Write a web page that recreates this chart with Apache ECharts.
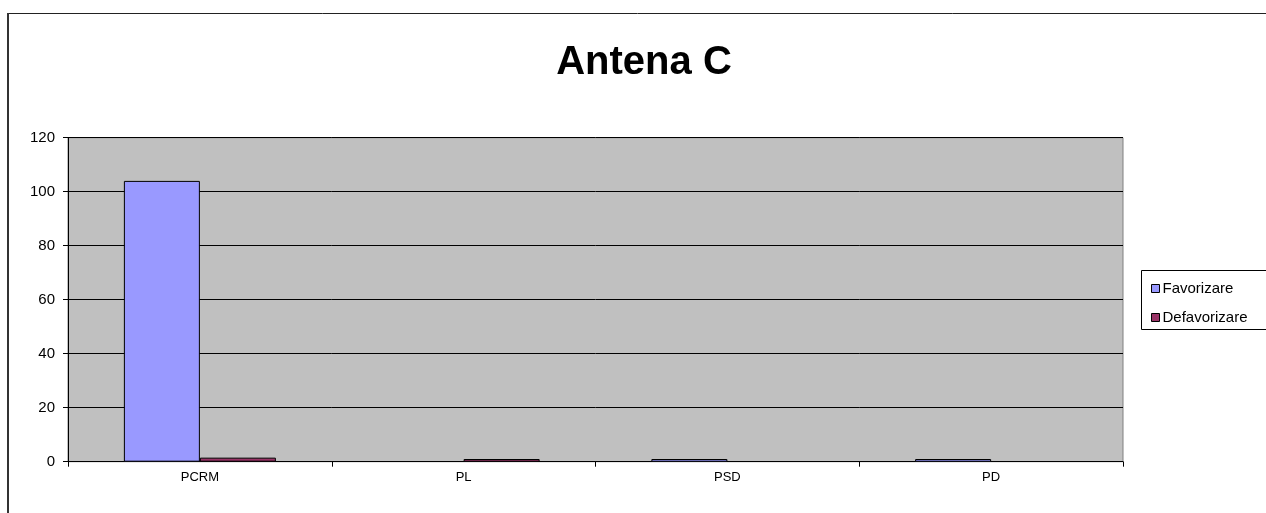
<!DOCTYPE html>
<html>
<head>
<meta charset="utf-8">
<script src="https://cdn.jsdelivr.net/npm/echarts@6/dist/echarts.min.js"></script>
<style>
html,body{margin:0;padding:0;background:#fff;}
#chart{width:1266px;height:513px;}
</style>
</head>
<body>
<div id="chart"></div>
<script>
const categories = ['PCRM', 'PL', 'PSD', 'PD'];
const favorizare = [104, 0, 1, 1];
const defavorizare = [1.5, 1, 0, 0];
const yTicks = [0, 20, 40, 60, 80, 100, 120];

const chart = echarts.init(document.getElementById('chart'), null, {renderer: 'canvas'});
const font = 'Liberation Sans, Arial, sans-serif';
const noZero = arr => arr.map(v => (v === 0 ? '-' : v));
chart.setOption({
  animation: false,
  backgroundColor: '#ffffff',
  title: {
    text: 'Antena C',
    left: 639, top: 38, textAlign: 'center',
    textStyle: {fontFamily: font, fontSize: 40, fontWeight: 'bold', color: '#000'}
  },
  legend: {
    orient: 'vertical',
    left: 1146, top: 276,
    itemWidth: 8, itemHeight: 8, itemGap: 14,
    icon: 'rect',
    textStyle: {fontFamily: font, fontSize: 15, color: '#000', padding: [0,0,0,-2]},
    data: [
      {name: 'Favorizare', itemStyle: {borderColor: '#000', borderWidth: 1}},
      {name: 'Defavorizare', itemStyle: {borderColor: '#000', borderWidth: 1}}
    ]
  },
  graphic: [
    {type: 'rect', shape: {x: 8, y: 13.5, width: 1400, height: 700}, style: {fill: 'none', stroke: '#222', lineWidth: 1}, silent: true},
    {type: 'line', shape: {x1: 8, y1: 13, x2: 8, y2: 513}, style: {stroke: '#333', lineWidth: 2}, silent: true},
    {type: 'rect', shape: {x: 1141.5, y: 270.5, width: 200, height: 59}, style: {fill: '#fff', stroke: '#000', lineWidth: 1}, silent: true, z: -1}
  ],
  grid: {
    left: 68, right: 143, top: 137.7, bottom: 51.3,
    show: true, backgroundColor: '#C0C0C0', borderColor: '#808080', borderWidth: 1
  },
  xAxis: {
    type: 'category',
    data: categories,
    axisLine: {lineStyle: {color: '#000', width: 1}},
    axisTick: {show: true, length: 5, lineStyle: {color: '#000'}},
    axisLabel: {fontFamily: font, fontSize: 13, color: '#000', margin: 9},
    splitLine: {show: false}
  },
  yAxis: {
    type: 'value',
    min: 0, max: 120, interval: 20,
    axisLine: {show: true, lineStyle: {color: '#000', width: 1}},
    axisTick: {show: true, length: 5, lineStyle: {color: '#000'}},
    axisLabel: {fontFamily: font, fontSize: 15, color: '#000', margin: 13,
      formatter: v => yTicks.includes(v) ? String(v) : ''},
    splitLine: {show: true, lineStyle: {color: '#000', width: 1}}
  },
  series: [
    {
      name: 'Favorizare', type: 'bar', data: noZero(favorizare),
      barWidth: 76, barGap: '0%',
      itemStyle: {color: '#9999FF', borderColor: '#000', borderWidth: 1}
    },
    {
      name: 'Defavorizare', type: 'bar', data: noZero(defavorizare),
      barWidth: 76, barGap: '0%',
      itemStyle: {color: '#993366', borderColor: '#000', borderWidth: 1}
    }
  ]
});
</script>
</body>
</html>
